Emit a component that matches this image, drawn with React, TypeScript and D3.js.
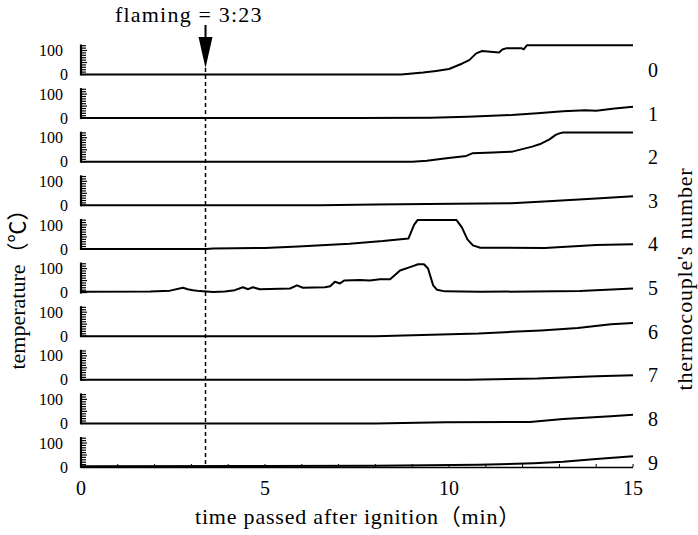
import React from 'react';
import * as d3 from 'd3';

// Thermocouple channels, top to bottom
const thermocouples = ['0', '1', '2', '3', '4', '5', '6', '7', '8', '9'];

// Temperature records [time (min), temperature (°C)] for each thermocouple
const tc0: [number, number][] = [
  [0, 0], [8.7, 0], [9.0, 4], [9.3, 8], [9.65, 15], [10.0, 23], [10.35, 45], [10.55, 60],
  [10.74, 88], [10.9, 98], [11.05, 96], [11.36, 92], [11.45, 104], [11.55, 109], [11.98, 109],
  [12.03, 105], [12.12, 122], [15, 122],
];
const tc1: [number, number][] = [
  [0, 0], [7.5, 0], [9.5, 2], [10.5, 6], [11.7, 13], [12.4, 20], [13.1, 29], [13.7, 33],
  [14.0, 31], [14.5, 40], [15, 47],
];
const tc2: [number, number][] = [
  [0, 0], [9.0, 0], [9.4, 4], [9.93, 14], [10.47, 24], [10.63, 35], [11.2, 38], [11.72, 42],
  [12.26, 63], [12.5, 75], [12.72, 92], [12.9, 112], [13.0, 118], [13.1, 122], [15, 122],
];
const tc3: [number, number][] = [
  [0, 0], [6.5, 0], [8.0, 3], [9.4, 6], [11.7, 9], [12.7, 17], [14, 28], [15, 38],
];
const tc4: [number, number][] = [
  [0, 0], [3.4, 0], [3.6, 2], [5, 4], [5.9, 10], [7.3, 22], [8.2, 33], [8.9, 44], [9.05, 100],
  [9.15, 121], [10.2, 121], [10.35, 90], [10.5, 40], [10.65, 15], [10.85, 5], [12.6, 4],
  [14, 16], [15, 20],
];
const tc5: [number, number][] = [
  [0, 3], [1.88, 4], [2.42, 8], [2.77, 20], [2.9, 14], [3.04, 10], [3.23, 6], [3.59, 2],
  [3.91, 4], [4.18, 10], [4.4, 22], [4.54, 14], [4.67, 22], [4.86, 14], [5.68, 17], [5.87, 30],
  [6.03, 20], [6.63, 22], [6.77, 26], [6.9, 45], [7.04, 38], [7.15, 50], [7.58, 52], [7.85, 50],
  [8.12, 55], [8.4, 55], [8.67, 92], [8.94, 106], [9.16, 118], [9.32, 118], [9.43, 100],
  [9.57, 30], [9.67, 12], [9.89, 5], [10.84, 3], [13.56, 6], [15, 17],
];
const tc6: [number, number][] = [
  [0, 0], [8, 0], [10.8, 11], [11.7, 18], [12.5, 24], [13.5, 34], [14.4, 50], [15, 55],
];
const tc7: [number, number][] = [
  [0, 0], [10.5, 0], [12.4, 5], [14, 15], [15, 19],
];
const tc8: [number, number][] = [
  [0, 0], [8, 0], [9.9, 5], [12.2, 6], [13.1, 18], [14.4, 30], [15, 36],
];
const tc9: [number, number][] = [
  [0, 3], [5, 4], [8, 5], [10.8, 9], [12.3, 16], [13.1, 22], [14, 33], [15, 45],
];
const series = [tc0, tc1, tc2, tc3, tc4, tc5, tc6, tc7, tc8, tc9];

// Axis ticks
const timeLabels = [0, 5, 10, 15];
const tempLabels = [0, 100];
const tempMinorStep = 10;
const tempMax = 125;

// Flaming onset (3 min 23 s)
const flamingMin = 3;
const flamingSec = 23;
const flamingTime = flamingMin + flamingSec / 60;
const flamingText = `flaming = ${flamingMin}:${flamingSec}`;

const W = 698;
const H = 535;
const FONT = "'Liberation Serif', 'Times New Roman', 'Noto Sans CJK JP', serif";

export default function App() {
  const x = d3.scaleLinear().domain([0, 15]).range([81, 633]);
  const base = d3.scalePoint<string>().domain(thermocouples).range([74.5, 467]);
  const panelHeight = 30;
  const tempLadder = d3.range(0, 121, tempMinorStep);

  const lastBase = base(thermocouples[thermocouples.length - 1]) as number;
  const fx = x(flamingTime);

  return (
    <svg
      width={W}
      height={H}
      style={{ position: 'absolute', left: 0, top: 0, background: '#fff' }}
      fontFamily={FONT}
    >
      <rect x={0} y={0} width={W} height={H} fill="#fff" />

      {thermocouples.map((tc, i) => {
        const b = base(tc) as number;
        const y = d3.scaleLinear().domain([0, tempMax]).range([b, b - panelHeight]);
        const line = d3
          .line<[number, number]>()
          .x((d) => x(d[0]))
          .y((d) => y(d[1]));
        return (
          <g key={tc}>
            {/* temperature axis */}
            <line x1={x(0)} x2={x(0)} y1={y(0) + 1} y2={y(tempMax)} stroke="#000" strokeWidth={2.2} />
            {tempLadder.map((t) => (
              <line
                key={t}
                x1={x(0)}
                x2={x(0) + (t % 50 === 0 ? 6 : 5)}
                y1={y(t)}
                y2={y(t)}
                stroke="#000"
                strokeWidth={1.2}
              />
            ))}
            {tempLabels.map((t) => (
              <text
                key={t}
                x={t === 0 ? 68 : 63}
                y={y(t)}
                dy="0.35em"
                textAnchor="end"
                fontSize={16}
                fill="#000"
              >
                {t}
              </text>
            ))}
            {/* record */}
            <path d={line(series[i]) || ''} fill="none" stroke="#000" strokeWidth={2} strokeLinejoin="round" />
            {/* channel number */}
            <text x={653} y={b + 2.5} textAnchor="middle" fontSize={20} fill="#000">
              {tc}
            </text>
          </g>
        );
      })}

      {/* time axis */}
      <line x1={x(0)} x2={x(15)} y1={lastBase + 0.5} y2={lastBase + 0.5} stroke="#000" strokeWidth={1.5} />
      {x.ticks(15).map((t) => (
        <line key={t} x1={x(t)} x2={x(t)} y1={lastBase} y2={lastBase - 3} stroke="#000" strokeWidth={1} />
      ))}
      {timeLabels.map((t) => (
        <text key={t} x={x(t)} y={495} textAnchor="middle" fontSize={20} fill="#000">
          {t}
        </text>
      ))}
      <text x={358} y={524} textAnchor="middle" fontSize={22} letterSpacing={0.8} fill="#000">
        time passed after ignition（min）
      </text>

      {/* axis titles */}
      <text transform="translate(25,284) rotate(-90)" textAnchor="middle" fontSize={22} fill="#000">
        temperature（℃）
      </text>
      <text
        transform="translate(692,279) rotate(-90)"
        textAnchor="middle"
        fontSize={22}
        letterSpacing={0.8}
        fill="#000"
      >
        thermocouple's number
      </text>

      {/* flaming marker */}
      <line x1={fx} x2={fx} y1={68} y2={lastBase} stroke="#000" strokeWidth={1.5} strokeDasharray="4,3" />
      <line x1={fx} x2={fx} y1={25} y2={40} stroke="#000" strokeWidth={2} />
      <path d={`M${fx - 7},37 L${fx + 7},37 L${fx},68 Z`} fill="#000" />
      <text x={115} y={22} fontSize={22} letterSpacing={1.2} fill="#000">
        {flamingText}
      </text>
    </svg>
  );
}
